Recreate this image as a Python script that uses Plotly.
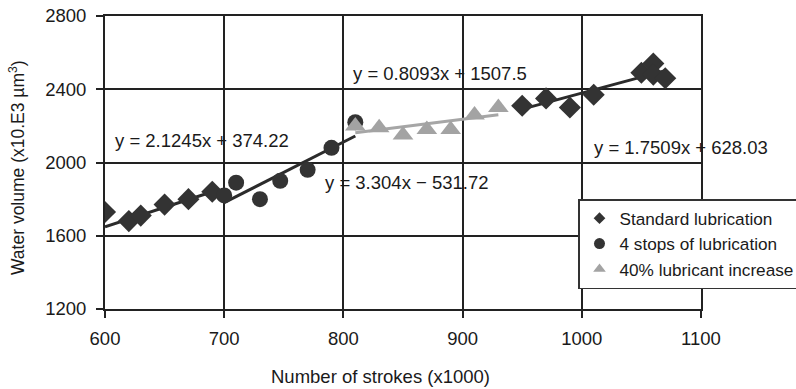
import plotly.graph_objects as go

# Standard lubrication (two runs)
std1_x = [600, 620, 630, 650, 670, 690]
std1_y = [1730, 1680, 1710, 1770, 1800, 1840]
std2_x = [950, 970, 990, 1010, 1050, 1060, 1060, 1070]
std2_y = [2310, 2350, 2300, 2370, 2490, 2540, 2480, 2460]
# 4 stops of lubrication
stop_x = [700, 710, 730, 747, 770, 790, 810]
stop_y = [1820, 1890, 1800, 1900, 1960, 2080, 2220]
# 40% lubricant increase
inc_x = [810, 830, 850, 870, 890, 910, 930]
inc_y = [2200, 2190, 2150, 2180, 2180, 2260, 2300]

# trendlines (slope, intercept, x range)
fits = [
    (2.1245, 374.22, 600, 690, "#2b2b2b"),
    (3.304, -531.72, 700, 810, "#2b2b2b"),
    (0.8093, 1507.5, 810, 930, "#a6a6a6"),
    (1.7509, 628.03, 950, 1070, "#2b2b2b"),
]
eq_labels = ["y = 2.1245x + 374.22", "y = 3.304x − 531.72",
             "y = 0.8093x + 1507.5", "y = 1.7509x + 628.03"]
eq_pos = [(681, 2122), (853, 1893), (881, 2487), (1083, 2084)]

DARK = "#333333"
GRAY = "#a3a3a3"
TXT = "#1a1a1a"
FONT = "Liberation Sans, Arial, sans-serif"

L, R, T, B = 105, 95, 16, 80
W, H = 796, 389
PW, PH = W - L - R, H - T - B

fig = go.Figure()
for a, b, x0, x1, c in fits:
    fig.add_trace(go.Scatter(x=[x0, x1], y=[a * x0 + b, a * x1 + b], mode="lines",
                             line=dict(color=c, width=3), showlegend=False, hoverinfo="skip"))

fig.add_trace(go.Scatter(x=std1_x + [None] + std2_x, y=std1_y + [None] + std2_y, mode="markers",
                         marker=dict(symbol="diamond", size=17, color=DARK), showlegend=False))
fig.add_trace(go.Scatter(x=stop_x, y=stop_y, mode="markers",
                         marker=dict(symbol="circle", size=16, color=DARK), showlegend=False))
fig.add_trace(go.Scatter(x=inc_x, y=inc_y, mode="markers",
                         marker=dict(symbol="triangle-up", size=18, color=GRAY), showlegend=False))

# legend entries
fig.add_trace(go.Scatter(x=[None], y=[None], mode="markers", name="Standard lubrication",
                         marker=dict(symbol="diamond", size=9, color=DARK)))
fig.add_trace(go.Scatter(x=[None], y=[None], mode="markers", name="4 stops of lubrication",
                         marker=dict(symbol="circle", size=11, color=DARK)))
fig.add_trace(go.Scatter(x=[None], y=[None], mode="markers", name="40% lubricant increase",
                         marker=dict(symbol="triangle-up", size=11, color=GRAY)))

for t, (x, y) in zip(eq_labels, eq_pos):
    fig.add_annotation(x=x, y=y, xref="x", yref="y", text=t, showarrow=False,
                       font=dict(size=18.5, color=TXT, family=FONT))

fig.add_annotation(x=(380 - L) / PW, y=-(377 - (T + PH)) / PH, xref="paper", yref="paper",
                   text="Number of strokes (x1000)", showarrow=False,
                   xanchor="center", yanchor="middle",
                   font=dict(size=18.5, color=TXT, family=FONT))
fig.add_annotation(x=(17 - L) / PW, y=((T + PH) - 168) / PH, xref="paper", yref="paper",
                   text="Water volume (x10.E3 µm<sup>3</sup>)", showarrow=False, textangle=-90,
                   xanchor="center", yanchor="middle",
                   font=dict(size=17.5, color=TXT, family=FONT))

axis_common = dict(showgrid=True, gridcolor="#222222", gridwidth=2, showline=True,
                   linecolor="#222222", linewidth=2, mirror=True, ticks="outside",
                   ticklen=7, tickwidth=2, tickcolor="#222222", zeroline=False,
                   tickfont=dict(size=18.5, color=TXT, family=FONT))

fig.update_layout(
    width=W, height=H,
    margin=dict(l=L, r=R, t=T, b=B, autoexpand=False),
    paper_bgcolor="white", plot_bgcolor="white",
    font=dict(family=FONT, size=18, color=TXT),
    xaxis=dict(range=[600, 1100], tickvals=[600, 700, 800, 900, 1000, 1100],
               ticklabelstandoff=5, **axis_common),
    yaxis=dict(range=[1200, 2800], tickvals=[1200, 1600, 2000, 2400, 2800],
               ticklabelstandoff=6, **axis_common),
    legend=dict(x=(578 - L) / PW, y=((T + PH) - 199) / PH, xanchor="left", yanchor="top",
                bgcolor="white", bordercolor="#333333", borderwidth=1.5,
                font=dict(size=17.2, family=FONT, color=TXT), tracegroupgap=0),
    showlegend=True,
)

fig.write_html("out.html")
